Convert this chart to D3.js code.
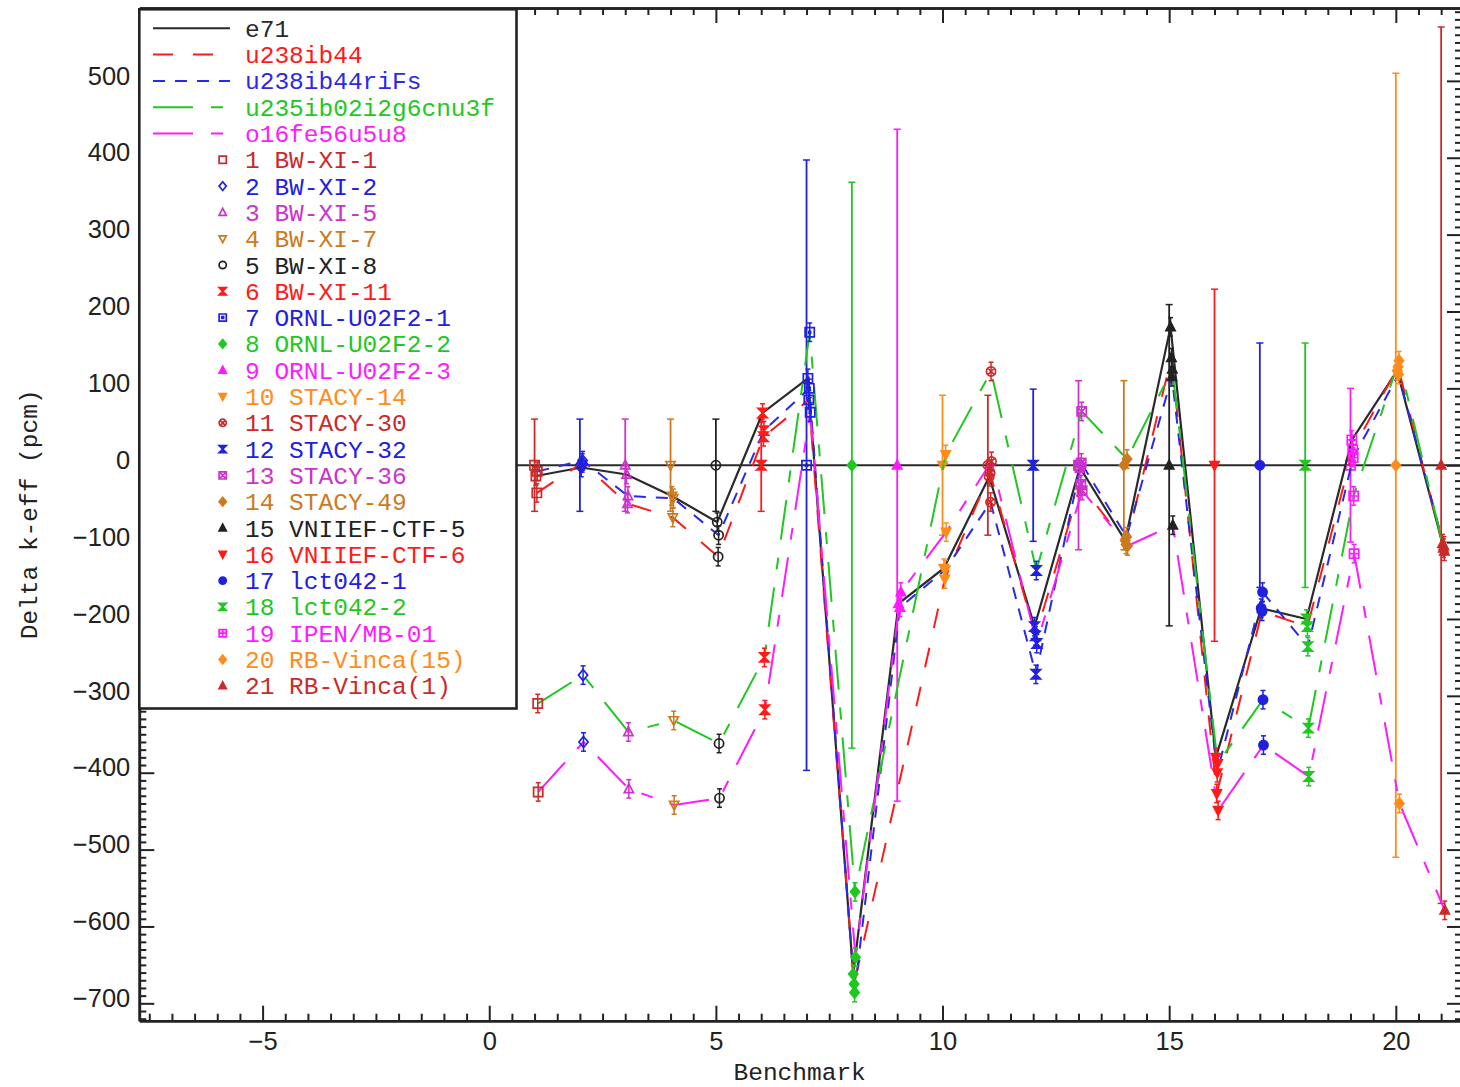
<!DOCTYPE html>
<html>
<head>
<meta charset="utf-8">
<script src="https://cdn.jsdelivr.net/npm/d3@7"></script>
<style>
  body { margin: 0; background: #ffffff; }
  svg { display: block; }
</style>
</head>
<body>
<svg id="chart" width="1460" height="1087"></svg>
<script>
// ---- benchmarks (x = 1..21) ----
const benchNames = ["BW-XI-1", "BW-XI-2", "BW-XI-5", "BW-XI-7", "BW-XI-8", "BW-XI-11",
  "ORNL-U02F2-1", "ORNL-U02F2-2", "ORNL-U02F2-3", "STACY-14", "STACY-30", "STACY-32",
  "STACY-36", "STACY-49", "VNIIEF-CTF-5", "VNIIEF-CTF-6", "lct042-1", "lct042-2",
  "IPEN/MB-01", "RB-Vinca(15)", "RB-Vinca(1)"];
const benchColors = ["#cc2a2a", "#2020e0", "#cc33cc", "#cc7a1f", "#222222", "#ff1a1a",
  "#2020e0", "#1fc81f", "#ff1aff", "#ff8c1a", "#cc2a2a", "#2020e0",
  "#cc33cc", "#cc7a1f", "#222222", "#ff1a1a", "#2020e0", "#1fc81f",
  "#ff1aff", "#ff8c1a", "#cc2a2a"];
const benchSymbols = ["square", "diamond", "triUp", "triDown", "circle", "hourglass",
  "squareDot", "diamondFill", "triUpFill", "triDownFill", "circleX", "hourglass",
  "squareX", "diamondFill", "triUpFill", "triDownFill", "circleFill", "hourglass",
  "squarePlus", "diamondFill", "triUpFill"];
// experimental uncertainty (pcm)
const expUnc = [60, 60, 60, 60, 60, 60, 397, 368, 437, 91, 91, 99, 110, 110, 209, 229, 159, 159, 100, 510, 570];

// ---- library results: C - E (pcm); null = no result for that benchmark ----
const libNames = ["e71", "u238ib44", "u238ib44riFs", "u235ib02i2g6cnu3f", "o16fe56u5u8"];
const libColors = ["#2a2a2a", "#ff1a1a", "#2a2ae6", "#1fc81f", "#ff1aff"];
const libDash = [null, "20,20", "12,10", "40,18,12,18", "40,18,12,18"];
const libOffset = [0.03, 0.05, 0.06, 0.07, 0.08];

const e71          = [-14, -3, -12, -40, -74, 68, 113, -662, -180, -134, -15, -210, -3, -98, 180, -380, -186, -200, 33, 123, -102];
const u238ib44     = [-36, 3, -50, -68, -119, 37, 85, -675, null, -148, -10, -222, -25, -103, 140, -427, -190, -210, 20, 128, -108];
const u238ib44riFs = [-8, 6, -40, -43, -91, 45, 100, -686, -185, -136, -48, -272, 3, -93, 115, -400, -165, -236, 10, 118, -105];
const u235ib02     = [-310, -273, -347, -332, -362, -250, 173, -555, null, 14, 122, -137, 70, 8, 125, -388, -305, -342, -40, 136, -112];
const o16fe56      = [-425, -360, -421, -442, -433, -318, 69, -640, -165, -87, 5, -232, -33, -105, -78, -449, -364, -405, -115, -440, -579];
const libValues = [e71, u238ib44, u238ib44riFs, u235ib02, o16fe56];
// statistical uncertainty of the calculations (pcm)
const statErr = [12, 12, 12, 12, 12, 12, 12, 12, 12, 12, 12, 12, 12, 12, 12, 12, 12, 12, 12, 12, 12];

// ---- axes ----
const xTickLabels = [-5, 0, 5, 10, 15, 20];
const yTickLabels = [-700, -600, -500, -400, -300, -200, -100, 0, 100, 200, 300, 400, 500];

const svg = d3.select("#chart");
const pL = 139.3, pR = 1462, pT = 8, pB = 1020.7;
const x = d3.scaleLinear().domain([-7.72, 21.46]).range([pL, pR]);
const y = d3.scaleLinear().domain([-722.6, 594.8]).range([pB, pT]);

svg.append("defs").append("clipPath").attr("id", "plotClip")
  .append("rect").attr("x", pL).attr("y", pT)
  .attr("width", pR - pL).attr("height", pB - pT);

const plot = svg.append("g").attr("clip-path", "url(#plotClip)");

// marker shapes
function symbolPath(type, r) {
  const c = (rr) => `M${-rr},0A${rr},${rr} 0 1,0 ${rr},0A${rr},${rr} 0 1,0 ${-rr},0Z`;
  const sq = `M${-r},${-r}H${r}V${r}H${-r}Z`;
  switch (type) {
    case "square": return sq;
    case "diamond": case "diamondFill":
      return `M0,${-r * 1.2}L${r},0L0,${r * 1.2}L${-r},0Z`;
    case "triUp": case "triUpFill":
      return `M0,${-r * 1.1}L${r},${r * 0.8}L${-r},${r * 0.8}Z`;
    case "triDown": case "triDownFill":
      return `M0,${r * 1.1}L${r},${-r * 0.8}L${-r},${-r * 0.8}Z`;
    case "circle": case "circleFill": return c(r);
    case "hourglass": return `M${-r},${-r}L${r},${-r}L${-r},${r}L${r},${r}Z`;
    case "squareDot": return sq + `M-0.9,-0.9h1.8v1.8h-1.8Z`;
    case "circleX": return c(r) + `M${-r * 0.7},${-r * 0.7}L${r * 0.7},${r * 0.7}M${r * 0.7},${-r * 0.7}L${-r * 0.7},${r * 0.7}`;
    case "squareX": return sq + `M${-r},${-r}L${r},${r}M${r},${-r}L${-r},${r}`;
    case "squarePlus": return sq + `M0,${-r}V${r}M${-r},0H${r}`;
  }
  return sq;
}
function isFilled(type) {
  return ["diamondFill", "triUpFill", "triDownFill", "circleFill", "hourglass"].includes(type);
}
function drawMarker(g, type, cx, cy, r, color) {
  g.append("path")
    .attr("d", symbolPath(type, r))
    .attr("transform", `translate(${cx},${cy})`)
    .attr("fill", isFilled(type) ? color : "none")
    .attr("stroke", color)
    .attr("stroke-width", 1.7);
}
function drawErrBar(g, cx, lo, hi, color, cap, sw) {
  g.append("line").attr("x1", cx).attr("x2", cx).attr("y1", y(lo)).attr("y2", y(hi))
    .attr("stroke", color).attr("stroke-width", sw);
  [lo, hi].forEach(v => g.append("line")
    .attr("x1", cx - cap).attr("x2", cx + cap).attr("y1", y(v)).attr("y2", y(v))
    .attr("stroke", color).attr("stroke-width", 1.5));
}

// zero reference line
plot.append("line")
  .attr("x1", pL).attr("x2", pR).attr("y1", y(0)).attr("y2", y(0))
  .attr("stroke", "#2a2a2a").attr("stroke-width", 2);

// experimental values (at 0) with their uncertainties
const refG = plot.append("g");
benchNames.forEach((name, i) => {
  const bx = x(i + 1);
  drawErrBar(refG, bx, -expUnc[i], expUnc[i], benchColors[i], 3.5, 1.8);
  drawMarker(refG, benchSymbols[i], bx, y(0), 4.6, benchColors[i]);
});

// library curves (missing results are skipped, the curve joins its neighbours)
const line = d3.line().x(d => x(d.b + d.off)).y(d => y(d.v));
libValues.forEach((vals, k) => {
  const pts = vals.map((v, i) => ({ b: i + 1, v: v, off: libOffset[k] }))
    .filter(d => d.v !== null);
  plot.append("path")
    .datum(pts)
    .attr("d", line)
    .attr("fill", "none")
    .attr("stroke", libColors[k])
    .attr("stroke-width", k === 0 ? 2.2 : 2)
    .attr("stroke-dasharray", libDash[k]);
});

// calculated points, drawn in each benchmark's colour and symbol
const ptsG = plot.append("g");
libValues.forEach((vals, k) => {
  vals.forEach((v, i) => {
    if (v === null) return;
    const px = x(i + 1 + libOffset[k]);
    drawErrBar(ptsG, px, v - statErr[i], v + statErr[i], benchColors[i], 2.5, 1.5);
    drawMarker(ptsG, benchSymbols[i], px, y(v), 4.6, benchColors[i]);
  });
});

// ---- frame and ticks ----
const axisColor = "#222222";
function styleAxis(g) {
  g.selectAll("path.domain").attr("stroke", axisColor).attr("stroke-width", 2.6);
  g.selectAll(".tick line").attr("stroke", axisColor).attr("stroke-width", 2);
}
const xMinor = d3.range(-7.5, 21.5, 0.5).filter(v => v % 5 !== 0);
const yMinor = d3.range(-720, 600, 10).filter(v => v % 100 !== 0);

// bottom
svg.append("g").attr("transform", `translate(0,${pB})`)
  .call(d3.axisBottom(x).tickValues(xMinor).tickSizeInner(-7).tickSizeOuter(0).tickFormat(""))
  .call(styleAxis);
const xAx = svg.append("g").attr("transform", `translate(0,${pB})`)
  .call(d3.axisBottom(x).tickValues(xTickLabels).tickSizeInner(-15).tickSizeOuter(0).tickPadding(11)
    .tickFormat(d3.format("d")))
  .call(styleAxis);
// top
svg.append("g").attr("transform", `translate(0,${pT})`)
  .call(d3.axisTop(x).tickValues(xMinor).tickSizeInner(-7).tickSizeOuter(0).tickFormat(""))
  .call(styleAxis);
svg.append("g").attr("transform", `translate(0,${pT})`)
  .call(d3.axisTop(x).tickValues(xTickLabels).tickSizeInner(-15).tickSizeOuter(0).tickFormat(""))
  .call(styleAxis);
// left
svg.append("g").attr("transform", `translate(${pL},0)`)
  .call(d3.axisLeft(y).tickValues(yMinor).tickSizeInner(-7).tickSizeOuter(0).tickFormat(""))
  .call(styleAxis);
const yAx = svg.append("g").attr("transform", `translate(${pL},0)`)
  .call(d3.axisLeft(y).tickValues(yTickLabels).tickSizeInner(-15).tickSizeOuter(0).tickPadding(9)
    .tickFormat(d3.format("d")))
  .call(styleAxis);
// right
svg.append("g").attr("transform", `translate(${pR},0)`)
  .call(d3.axisRight(y).tickValues(yMinor).tickSizeInner(-7).tickSizeOuter(0).tickFormat(""))
  .call(styleAxis);
svg.append("g").attr("transform", `translate(${pR},0)`)
  .call(d3.axisRight(y).tickValues(yTickLabels).tickSizeInner(-15).tickSizeOuter(0).tickFormat(""))
  .call(styleAxis);

[xAx, yAx].forEach(a => a.selectAll(".tick text")
  .attr("font-family", "'Liberation Sans', Arial, sans-serif")
  .attr("font-size", 25.5)
  .attr("fill", "#222222"));
yAx.selectAll(".tick text").attr("transform", "translate(0,-5)");

// axis titles
const monoFont = "'Liberation Mono', 'DejaVu Sans Mono', monospace";
svg.append("text")
  .attr("x", (pL + pR) / 2 - 1).attr("y", 1071).attr("dy", "0.35em")
  .attr("text-anchor", "middle")
  .attr("font-family", monoFont).attr("font-size", 24.5).attr("fill", "#222222")
  .text("Benchmark");
svg.append("text")
  .attr("transform", `translate(28,${(pT + pB) / 2}) rotate(-90)`)
  .attr("dy", "0.35em")
  .attr("text-anchor", "middle")
  .attr("font-family", monoFont).attr("font-size", 24.5).attr("fill", "#222222")
  .text("Delta k-eff (pcm)");

// ---- legend ----
const lg = svg.append("g");
lg.append("rect")
  .attr("x", pL).attr("y", 9.3).attr("width", 516.5 - pL).attr("height", 708.5 - 9.3)
  .attr("fill", "#ffffff").attr("stroke", axisColor).attr("stroke-width", 2.6);
const rowY = i => 28.3 + i * 26.3;
const textX = 245;
libNames.forEach((name, k) => {
  lg.append("line")
    .attr("x1", 153).attr("x2", 230).attr("y1", rowY(k)).attr("y2", rowY(k))
    .attr("stroke", libColors[k]).attr("stroke-width", 2)
    .attr("stroke-dasharray", libDash[k]);
  lg.append("text")
    .attr("x", textX).attr("y", rowY(k)).attr("dy", "0.35em")
    .attr("font-family", monoFont).attr("font-size", 24.5).attr("fill", libColors[k])
    .text(name);
});
benchNames.forEach((name, i) => {
  const ry = rowY(libNames.length + i);
  drawMarker(lg, benchSymbols[i], 222.7, ry, 3.6, benchColors[i]);
  lg.append("text")
    .attr("x", textX).attr("y", ry).attr("dy", "0.35em")
    .attr("font-family", monoFont).attr("font-size", 24.5).attr("fill", benchColors[i])
    .style("white-space", "pre")
    .text(`${i + 1} ${name}`);
});
</script>
</body>
</html>
